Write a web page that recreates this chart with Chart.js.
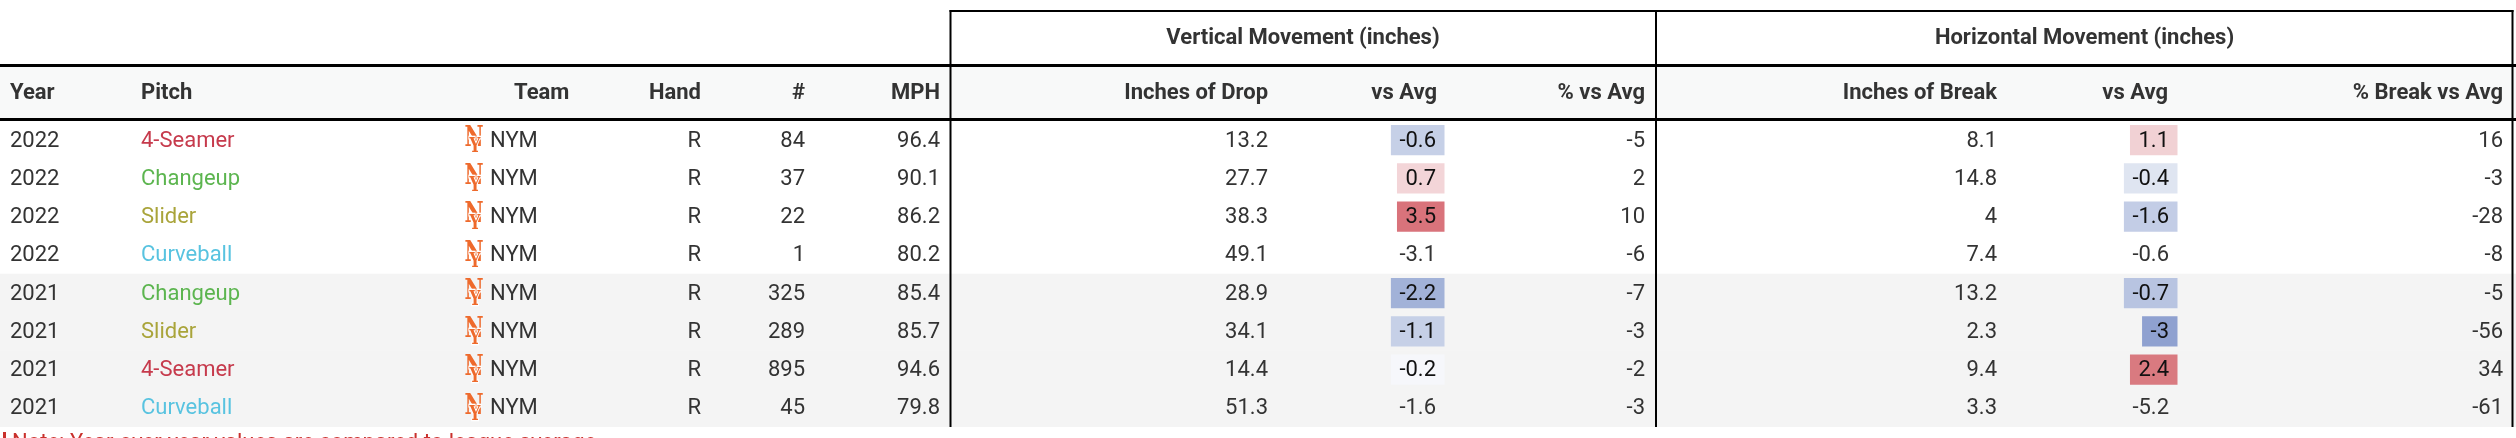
<!DOCTYPE html>
<html>
<head>
<meta charset="utf-8">
<script src="https://cdn.jsdelivr.net/npm/chart.js@4.4.1/dist/chart.umd.min.js"></script>
<style>
  html, body { margin: 0; padding: 0; background: #fff; overflow: hidden; }
  #wrap { width: 2516px; height: 438px; position: relative; }
</style>
</head>
<body>
<div id="wrap"><canvas id="pitchTable"></canvas></div>
<script>
// ---- table data ----
const years = ['2022', '2022', '2022', '2022', '2021', '2021', '2021', '2021'];
const pitches = ['4-Seamer', 'Changeup', 'Slider', 'Curveball', 'Changeup', 'Slider', '4-Seamer', 'Curveball'];
const teams = ['NYM', 'NYM', 'NYM', 'NYM', 'NYM', 'NYM', 'NYM', 'NYM'];
const hands = ['R', 'R', 'R', 'R', 'R', 'R', 'R', 'R'];
const counts = [84, 37, 22, 1, 325, 289, 895, 45];
const mph = [96.4, 90.1, 86.2, 80.2, 85.4, 85.7, 94.6, 79.8];
const dropInches = [13.2, 27.7, 38.3, 49.1, 28.9, 34.1, 14.4, 51.3];
const dropVsAvg = [-0.6, 0.7, 3.5, -3.1, -2.2, -1.1, -0.2, -1.6];
const dropPctVsAvg = [-5, 2, 10, -6, -7, -3, -2, -3];
const breakInches = [8.1, 14.8, 4, 7.4, 13.2, 2.3, 9.4, 3.3];
const breakVsAvg = [1.1, -0.4, -1.6, -0.6, -0.7, -3, 2.4, -5.2];
const breakPctVsAvg = [16, -3, -28, -8, -5, -56, 34, -61];

const groupHeaders = ['Vertical Movement (inches)', 'Horizontal Movement (inches)'];
const noteText = 'Note: Year-over-year values are compared to league average';

// ---- styles ----
const pitchColors = {
  '4-Seamer': '#c63a4c',
  'Changeup': '#5cb54f',
  'Slider': '#a9a43a',
  'Curveball': '#58c3e0'
};
const dropShade = ['#c6d0e7', '#f3d5d8', '#d9737b', null, '#a2b2d8', '#c6d0e7', '#f6f7fb', null];
const breakShade = ['#f1d1d4', '#dfe5f1', '#c3cde6', null, '#b8c4e1', '#8fa1d0', '#d97a80', null];

const FONT = '22px Roboto';
const BOLD = 'bold 22px Roboto';
const TEXT = '#333333';
const BOX_PAD = 8.5;

// column anchors in x-scale units (the x scale spans the canvas width)
const COLUMNS = [
  { head: 'Year', x: 10, align: 'left', values: years },
  { head: 'Pitch', x: 141, align: 'left', values: pitches, pitch: true },
  { head: 'Team', x: 514, align: 'left', values: teams, team: true, cellX: 490 },
  { head: 'Hand', x: 701, align: 'right', values: hands },
  { head: '#', x: 805, align: 'right', values: counts },
  { head: 'MPH', x: 940, align: 'right', values: mph },
  { head: 'Inches of Drop', x: 1268, align: 'right', values: dropInches },
  { head: 'vs Avg', x: 1437, align: 'right', values: dropVsAvg, cellX: 1436 },
  { head: '% vs Avg', x: 1645, align: 'right', values: dropPctVsAvg },
  { head: 'Inches of Break', x: 1997, align: 'right', values: breakInches },
  { head: 'vs Avg', x: 2168, align: 'right', values: breakVsAvg, cellX: 2169 },
  { head: '% Break vs Avg', x: 2503, align: 'right', values: breakPctVsAvg }
];
const GROUPS = [
  { from: 950, to: 1656, label: groupHeaders[0] },
  { from: 1656, to: 2513, label: groupHeaders[1] }
];
const WIDTH = 2516;

function measure(str) {
  const c = document.createElement('canvas').getContext('2d');
  c.font = FONT;
  return c.measureText(String(str)).width;
}

// floating bar ranges for shaded cells, right-aligned to the text anchor
function shadeRanges(values, shades, textRight) {
  return values.map((v, i) => {
    if (!shades[i]) return null;
    const w = measure(v);
    return [textRight - w - BOX_PAD, textRight + BOX_PAD];
  });
}

// small interlocked "NY" mark next to the team code
function drawMetsMark(ctx, cx, cy) {
  ctx.save();
  ctx.translate(cx, cy);
  ctx.textAlign = 'center';
  ctx.textBaseline = 'middle';
  ctx.fillStyle = '#ee6a2c';
  ctx.save();
  ctx.scale(0.95, 1.25);
  ctx.font = 'bold 22px "DejaVu Serif"';
  ctx.fillText('N', 0, -2);
  ctx.restore();
  ctx.save();
  ctx.scale(0.9, 1.2);
  ctx.font = 'bold 17px "DejaVu Serif"';
  ctx.lineWidth = 2;
  ctx.strokeStyle = '#ffffff';
  ctx.strokeText('Y', 1, 5);
  ctx.fillText('Y', 1, 5);
  ctx.restore();
  ctx.restore();
}

const tablePlugin = {
  id: 'tableCells',
  beforeDatasetsDraw(chart) {
    const { ctx } = chart;
    const x = chart.scales.x;
    ctx.save();
    ctx.fillStyle = '#f8f9f9';
    ctx.fillRect(x.getPixelForValue(0), 67, x.getPixelForValue(WIDTH), 51);
    ctx.restore();
  },
  afterDatasetsDraw(chart) {
    const { ctx, chartArea } = chart;
    const x = chart.scales.x, y = chart.scales.y;
    const px = (v) => x.getPixelForValue(v);

    ctx.save();
    // rules
    ctx.fillStyle = '#000';
    ctx.fillRect(px(949.5), 10, px(2513.5) - px(949.5), 2);
    ctx.fillRect(px(0), 64, px(WIDTH), 3);
    ctx.fillRect(px(0), 118, px(WIDTH), 3);
    [949.5, 1655, 2511.5].forEach((v) => {
      ctx.fillRect(px(v), 10, 2, chartArea.bottom - 10);
    });

    // group headers
    ctx.font = BOLD;
    ctx.fillStyle = TEXT;
    ctx.textBaseline = 'middle';
    ctx.textAlign = 'center';
    GROUPS.forEach((g) => ctx.fillText(g.label, (px(g.from) + px(g.to)) / 2, 38));

    // column headers
    COLUMNS.forEach((col) => {
      ctx.textAlign = col.align;
      ctx.fillText(col.head, px(col.x), 93);
    });

    // cells
    ctx.font = FONT;
    COLUMNS.forEach((col) => {
      col.values.forEach((v, i) => {
        const cy = y.getPixelForValue(i) + 1;
        let color = TEXT;
        if (col.pitch) color = pitchColors[v];
        if (col.values === dropVsAvg && dropShade[i]) color = '#111';
        if (col.values === breakVsAvg && breakShade[i]) color = '#111';
        if (col.team) drawMetsMark(ctx, px(474), cy);
        ctx.font = FONT;
        ctx.textAlign = col.align;
        ctx.textBaseline = 'middle';
        ctx.fillStyle = color;
        ctx.fillText(String(v), px(col.cellX || col.x), cy);
      });
    });

    // footnote, cut by the bottom edge
    ctx.fillStyle = '#c9302c';
    ctx.fillRect(px(3), 432, 3, 10);
    ctx.textAlign = 'left';
    ctx.textBaseline = 'alphabetic';
    ctx.fillText(noteText, px(12), 449);
    ctx.restore();
  }
};

function build() {
  const rowLabels = years.map((yr, i) => yr + ' ' + pitches[i]);
  const ctx = document.getElementById('pitchTable').getContext('2d');
  new Chart(ctx, {
    type: 'bar',
    data: {
      labels: rowLabels,
      datasets: [
        {
          label: 'drop vs avg',
          data: shadeRanges(dropVsAvg, dropShade, 1436),
          backgroundColor: dropShade.map((c) => c || 'transparent'),
          barPercentage: 0.785,
          categoryPercentage: 1,
          grouped: false,
          order: 0
        },
        {
          label: 'break vs avg',
          data: shadeRanges(breakVsAvg, breakShade, 2169),
          backgroundColor: breakShade.map((c) => c || 'transparent'),
          barPercentage: 0.785,
          categoryPercentage: 1,
          grouped: false,
          order: 0
        },
        {
          label: 'row band',
          data: years.map((yr) => (yr === '2021' ? [0, WIDTH] : null)),
          backgroundColor: '#f4f4f4',
          barPercentage: 1,
          categoryPercentage: 1,
          grouped: false,
          order: 1
        }
      ]
    },
    options: {
      indexAxis: 'y',
      responsive: true,
      maintainAspectRatio: false,
      animation: false,
      devicePixelRatio: 1,
      events: [],
      layout: { padding: { top: 121, bottom: 11, left: 0, right: 0 } },
      plugins: { legend: { display: false }, tooltip: { enabled: false } },
      scales: {
        x: { type: 'linear', min: 0, max: WIDTH, display: false },
        y: { type: 'category', display: false, offset: true }
      }
    },
    plugins: [tablePlugin]
  });
}

document.fonts.load(FONT).then(() => document.fonts.load(BOLD)).then(build, build);
</script>
</body>
</html>
